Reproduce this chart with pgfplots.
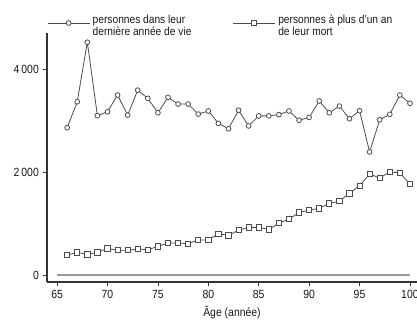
\documentclass[border=0pt]{standalone}
\usepackage{pgfplots}
\pgfplotsset{compat=1.18}
\usepackage{fontspec}
\setmainfont{Liberation Sans}[FakeStretch=0.88]
\begin{document}
\fontsize{8.7pt}{9.5pt}\selectfont
\begin{tikzpicture}
\begin{axis}[
  scale only axis, width=277.5pt, height=186.75pt,
  xmin=64, xmax=100.7, ymin=-136, ymax=4700,
  axis lines=left,
  axis line style={-, black!80, line width=0.8pt},
  tick style={black!80, line width=0.6pt},
  tick align=outside, major tick length=3pt,
  minor tick num=0,
  xtick={65,70,...,100},
  ytick={0,2000,4000}, yticklabels={0,2\,000,4\,000},
  /pgf/number format/assume math mode=true,
  tick label style={font=\fontsize{8.9pt}{9.5pt}\selectfont, text=black!90},
  xlabel={Âge (année)},
  xlabel style={font=\fontsize{8.9pt}{9.5pt}\selectfont, text=black!90},
  legend columns=2,
  legend cell align=left,
  legend style={at={(0,1.04)}, anchor=west, draw=none, fill=none, inner sep=0pt,
    font=\fontsize{8.7pt}{9.5pt}\selectfont, text=black!90,
    /tikz/every even column/.append style={column sep=29pt}},
  legend image code/.code={\draw[mark repeat=2,mark phase=2,#1] plot coordinates {(0pt,0pt)(15.75pt,0pt)(31.5pt,0pt)};},
]
\addplot[black!40, line width=1.2pt, no marks, forget plot] coordinates {(65,0) (100,0)};
\addplot[color=black!70, line width=0.6pt, mark=*, mark size=1.8pt, mark options={fill=white, draw=black!70, solid}] table {
x y
66 2860
67 3365
68 4520
69 3095
70 3170
71 3495
72 3105
73 3590
74 3430
75 3150
76 3450
77 3320
78 3320
79 3125
80 3185
81 2945
82 2840
83 3200
84 2895
85 3090
86 3090
87 3115
88 3185
89 3005
90 3060
91 3380
92 3150
93 3280
94 3035
95 3190
96 2390
97 3015
98 3120
99 3495
100 3335
};
\addlegendentry{\begin{tabular}{@{}l@{}}personnes dans leur\\dernière année de vie\end{tabular}}
\addplot[color=black!70, line width=0.6pt, mark=square*, mark size=1.95pt, mark options={fill=white, draw=black!70, solid}] table {
x y
66 390
67 440
68 400
69 440
70 515
71 480
72 480
73 505
74 490
75 555
76 620
77 620
78 610
79 680
80 680
81 800
82 770
83 870
84 925
85 925
86 885
87 1005
88 1085
89 1215
90 1260
91 1295
92 1390
93 1435
94 1585
95 1735
96 1960
97 1885
98 2000
99 1985
100 1765
};
\addlegendentry{\begin{tabular}{@{}l@{}}personnes à plus d'un an\\de leur mort\end{tabular}}
\end{axis}
\pgfresetboundingbox
\path[use as bounding box] ([shift={(-35.25pt,-28.5pt)}]current axis.south west) rectangle ++(312.75pt,240pt);
\end{tikzpicture}
\end{document}
